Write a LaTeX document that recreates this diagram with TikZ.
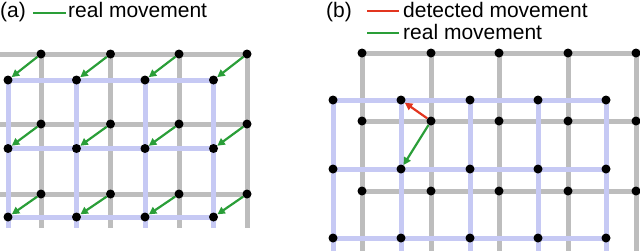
\documentclass[tikz,border=0pt]{standalone}
\usepackage{fontspec}
\setmainfont{Liberation Sans}
\usetikzlibrary{arrows.meta}
\definecolor{gridgray}{HTML}{BDBDBD}
\definecolor{gridblue}{HTML}{C6C9F4}
\definecolor{mvgreen}{HTML}{2A9E38}
\definecolor{mvred}{HTML}{E2351F}
\tikzset{
  dot/.style={circle,fill=black,inner sep=0pt,minimum size=9pt},
  gline/.style={draw=gridgray,line width=5pt},
  bline/.style={draw=gridblue,line width=5pt},
  garrow/.style={draw=mvgreen,line width=2.2pt,-{Triangle[length=7.5pt,width=7.5pt]}},
  rarrow/.style={draw=mvred,line width=2.2pt,-{Triangle[length=7.5pt,width=7.5pt]}},
  legline/.style={line width=2.8pt},
  lab/.style={anchor=base west,inner sep=0pt,font=\fontsize{21}{24}\selectfont}
}
\begin{document}
\begin{tikzpicture}[x=1pt,y=-1pt]
\useasboundingbox (0,0) rectangle (640,250);
\clip (0,0) rectangle (640,250);
% ---------- panel (a) ----------
\foreach \y in {54,124,194} \draw[gline] (0,\y) -- (249.5,\y);
\foreach \x in {41,110.5,179,247} \draw[gline] (\x,54) -- (\x,228);
\foreach \y in {80,148.5,217} \draw[bline] (5.5,\y) -- (216,\y);
\foreach \x in {8,76.5,145,213.5} \draw[bline] (\x,80) -- (\x,228);
\foreach \x [count=\i] in {41,110.5,179,247}
  \foreach \y [count=\j] in {54,124,194}
    \node[dot] (ga-\i-\j) at (\x,\y) {};
\foreach \x [count=\i] in {8,76.5,145,213.5}
  \foreach \y [count=\j] in {80,148.5,217}
    \node[dot] (ba-\i-\j) at (\x,\y) {};
\foreach \i in {1,...,4}
  \foreach \j in {1,2,3}
    \draw[garrow] (ga-\i-\j) -- (ba-\i-\j);
% legend (a)
\node[lab] (la) at (0,17) {(a)};
\coordinate (la1) at (33,13);
\coordinate (la2) at (66,13);
\draw[legline,mvgreen] (la1) -- (la2);
\node[lab] (lat) at (68,17) {real movement};
% ---------- panel (b) ----------
\foreach \y in {53,121,191} \draw[gline] (362,\y) -- (645,\y);
\foreach \x in {362,431,499,568,636} \draw[gline] (\x,53) -- (\x,255);
\foreach \y in {100,169,238} \draw[bline] (330.5,\y) -- (608.5,\y);
\foreach \x in {333,401,470,538,606} \draw[bline] (\x,100) -- (\x,255);
\foreach \x [count=\i] in {362,431,499,568,636}
  \foreach \y [count=\j] in {53,121,191}
    \node[dot] (gb-\i-\j) at (\x,\y) {};
\foreach \x [count=\i] in {333,401,470,538,606}
  \foreach \y [count=\j] in {100,169,238}
    \node[dot] (bb-\i-\j) at (\x,\y) {};
\draw[rarrow] (gb-2-2) -- (bb-2-1);
\draw[garrow] (gb-2-2) -- (bb-2-2);
% legend (b)
\node[lab] (lb) at (326,17) {(b)};
\coordinate (lb1) at (367,11);
\coordinate (lb2) at (399,11);
\draw[legline,mvred] (lb1) -- (lb2);
\node[lab] (lbt1) at (403,17) {detected movement};
\coordinate (lb3) at (367,33);
\coordinate (lb4) at (399,33);
\draw[legline,mvgreen] (lb3) -- (lb4);
\node[lab] (lbt2) at (403,39) {real movement};
\end{tikzpicture}
\end{document}
